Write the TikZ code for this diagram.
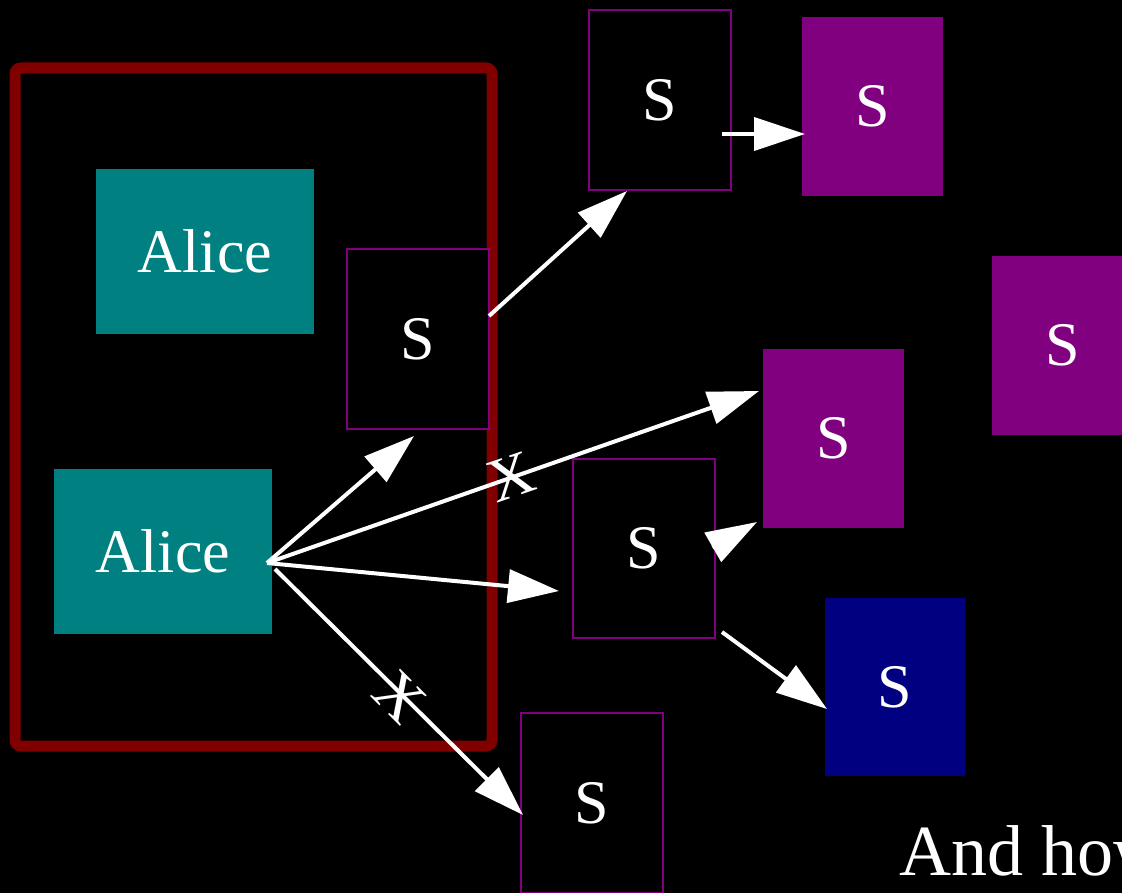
\documentclass[tikz,border=0pt]{standalone}
\usepackage{fontspec}
\setmainfont{Liberation Serif}
\usetikzlibrary{arrows.meta}
\definecolor{frameRed}{HTML}{800000}
\definecolor{tealBox}{HTML}{008080}
\definecolor{purpleBox}{HTML}{800080}
\definecolor{navyBox}{HTML}{000080}
\tikzset{
  lbl/.style={text=white,font=\fontsize{62}{70}\selectfont,inner sep=0pt},
  alicebox/.style={lbl,fill=tealBox,minimum width=218pt,minimum height=165pt},
  sbox/.style={lbl,fill=black,draw=purpleBox,line width=1.3pt,minimum width=142pt,minimum height=180pt},
  pbox/.style={lbl,fill=purpleBox,minimum width=141pt,minimum height=179pt},
  nbox/.style={lbl,fill=navyBox,minimum width=140pt,minimum height=178pt},
  arr/.style={draw=white,line width=4pt,-{Triangle[length=51pt,width=33pt]}},
  xmark/.style={text=white,font=\fontsize{62}{70}\selectfont,inner sep=0pt}
}
\begin{document}
\begin{tikzpicture}[x=1pt,y=-1pt]
\useasboundingbox (0,0) rectangle (1122,893);
\fill[black] (0,0) rectangle (1122,893);
% frame
\draw[frameRed,line width=11pt,rounded corners=6pt] (15,68) rectangle (492,746);
% boxes
\node[alicebox] (al1) at (205,251.5) {Alice};
\node[alicebox] (al2) at (163,551.5) {Alice};
\node[sbox] (s1) at (418,339) {S};
\node[sbox] (s2) at (660,100) {S};
\node[sbox,minimum height=179pt] (s3) at (644,548.5) {S};
\node[sbox] (s4) at (592,803) {S};
\node[pbox] (p1) at (872.5,106.5) {S};
\node[pbox] (p2) at (1062.5,345.5) {S};
\node[pbox] (p3) at (833.5,438.5) {S};
\node[nbox] (n1) at (895,687) {S};
\node[text=white,font=\fontsize{72}{80}\selectfont,inner sep=0pt,anchor=base west] (tx) at (899,875) {And how};
% connector end points
\coordinate (a1s) at (489,316);
\coordinate (a1e) at (627,191);
\coordinate (a2s) at (722,134);
\coordinate (a2e) at (805,134);
\coordinate (al2o) at (267,563);
\coordinate (al2d) at (275,569);
\coordinate (e1) at (414,436);
\coordinate (e2) at (759,391);
\coordinate (e3) at (559,591);
\coordinate (e4) at (523,815);
\coordinate (s3a) at (712.5,547.5);
\coordinate (s3b) at (722,632);
\coordinate (p3in) at (757,522);
\coordinate (n1in) at (827,709);
% arrows
\draw[arr] (a1s) -- (a1e);
\draw[arr] (a2s) -- (a2e);
\draw[arr] (al2o) -- (e1);
\draw[arr] (al2o) -- (e2);
\draw[arr] (al2o) -- (e3);
\draw[arr] (al2d) -- (e4);
\draw[arr] (s3a) -- (p3in);
\draw[arr] (s3b) -- (n1in);
% crosses
\node[xmark,rotate=19] (x1) at (511,477) {X};
\node[xmark,rotate=-45] (x2) at (400,697) {X};
\end{tikzpicture}
\end{document}
